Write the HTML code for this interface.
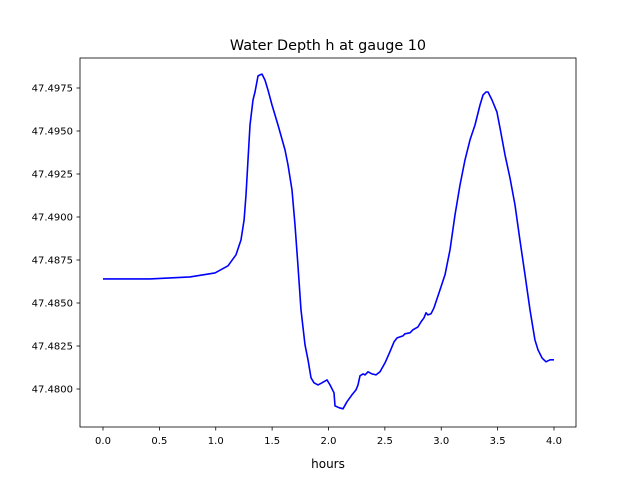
<!DOCTYPE html>
<html><head><meta charset="utf-8"><style>body{margin:0;background:#fff}svg{display:block}text{font-family:"DejaVu Sans","Liberation Sans",sans-serif;fill:#000}</style></head>
<body>
<svg id="chart" width="640" height="480" xmlns="http://www.w3.org/2000/svg">
<rect width="640" height="480" fill="#fff"/>
<text x="328" y="50" font-size="14.4" text-anchor="middle">Water Depth h at gauge 10</text>
<g id="axes"></g>
<text x="328" y="468" font-size="12" text-anchor="middle">hours</text>
</svg>
<script>
const hours=[0,0.417,0.772,0.993,1.109,1.180,1.224,1.251,1.268,1.286,1.304,1.330,1.348,1.375,1.392,1.410,1.437,1.463,1.499,1.552,1.614,1.641,1.676,1.703,1.729,1.756,1.792,1.818,1.845,1.871,1.907,1.942,1.987,2.013,2.049,2.058,2.093,2.129,2.164,2.208,2.244,2.262,2.279,2.306,2.324,2.350,2.386,2.421,2.457,2.501,2.545,2.581,2.608,2.634,2.661,2.678,2.723,2.749,2.794,2.820,2.847,2.865,2.882,2.909,2.936,2.989,3.033,3.078,3.122,3.166,3.211,3.255,3.299,3.344,3.370,3.397,3.415,3.450,3.494,3.521,3.565,3.610,3.654,3.698,3.743,3.787,3.831,3.858,3.894,3.929,3.947,3.965,4.0];
const depth=[47.48640,47.48640,47.48652,47.48675,47.48716,47.48780,47.48867,47.48983,47.49128,47.49332,47.49535,47.49680,47.49727,47.49820,47.49826,47.49831,47.49796,47.49738,47.49651,47.49535,47.49390,47.49303,47.49157,47.48954,47.48722,47.48460,47.48257,47.48170,47.48065,47.48036,47.48024,47.48036,47.48053,47.48024,47.47978,47.47902,47.47891,47.47885,47.47926,47.47966,47.47995,47.48024,47.48077,47.48088,47.48082,47.48100,47.48088,47.48082,47.48100,47.48152,47.48216,47.48274,47.48297,47.48303,47.48309,47.48321,47.48327,47.48344,47.48361,47.48390,47.48414,47.48443,47.48431,47.48437,47.48472,47.48576,47.48664,47.48809,47.49012,47.49186,47.49332,47.49448,47.49535,47.49651,47.49709,47.49727,47.49727,47.49680,47.49611,47.49518,47.49361,47.49227,47.49070,47.48867,47.48664,47.48460,47.48286,47.48228,47.48181,47.48158,47.48164,47.48170,47.48170];
const xTicks=[0,0.5,1,1.5,2,2.5,3,3.5,4];
const xTickLabels=["0.0","0.5","1.0","1.5","2.0","2.5","3.0","3.5","4.0"];
const yTicks=[47.4800,47.4825,47.4850,47.4875,47.4900,47.4925,47.4950,47.4975];
const yTickLabels=["47.4800","47.4825","47.4850","47.4875","47.4900","47.4925","47.4950","47.4975"];
const NS="http://www.w3.org/2000/svg";
const L=80,R=576,T=58,B=427;
const xs=v=>103+(v-0)*(554-103)/4;
const ys=v=>389-(v-47.48)*(389-88)/0.0175;
const g=document.getElementById('axes');
function mk(t,a){const e=document.createElementNS(NS,t);for(const k in a)e.setAttribute(k,a[k]);g.appendChild(e);return e;}
let d=hours.map((h,i)=>(i?'L':'M')+xs(h).toFixed(1)+','+ys(depth[i]).toFixed(1)).join('');
const line=mk('path',{d:d,fill:'none',stroke:'#0000ff','stroke-width':1.6,'stroke-linejoin':'round'});


const frame=mk('rect',{x:L,y:T,width:R-L,height:B-T,fill:'none',stroke:'#000','stroke-width':0.8});


xTicks.forEach((v,i)=>{const x=xs(v);
const t=mk('line',{x1:x,x2:x,y1:B,y2:B+3.5,stroke:'#000','stroke-width':0.8});


const l=mk('text',{x:x,y:B+17,'font-size':10,'text-anchor':'middle'});l.textContent=xTickLabels[i];

});
yTicks.forEach((v,i)=>{const y=ys(v);
const t=mk('line',{x1:L-3.5,x2:L,y1:y,y2:y,stroke:'#000','stroke-width':0.8});


const l=mk('text',{x:L-7,y:y+3.5,'font-size':10,'text-anchor':'end'});l.textContent=yTickLabels[i];

});
</script>
</body></html>
